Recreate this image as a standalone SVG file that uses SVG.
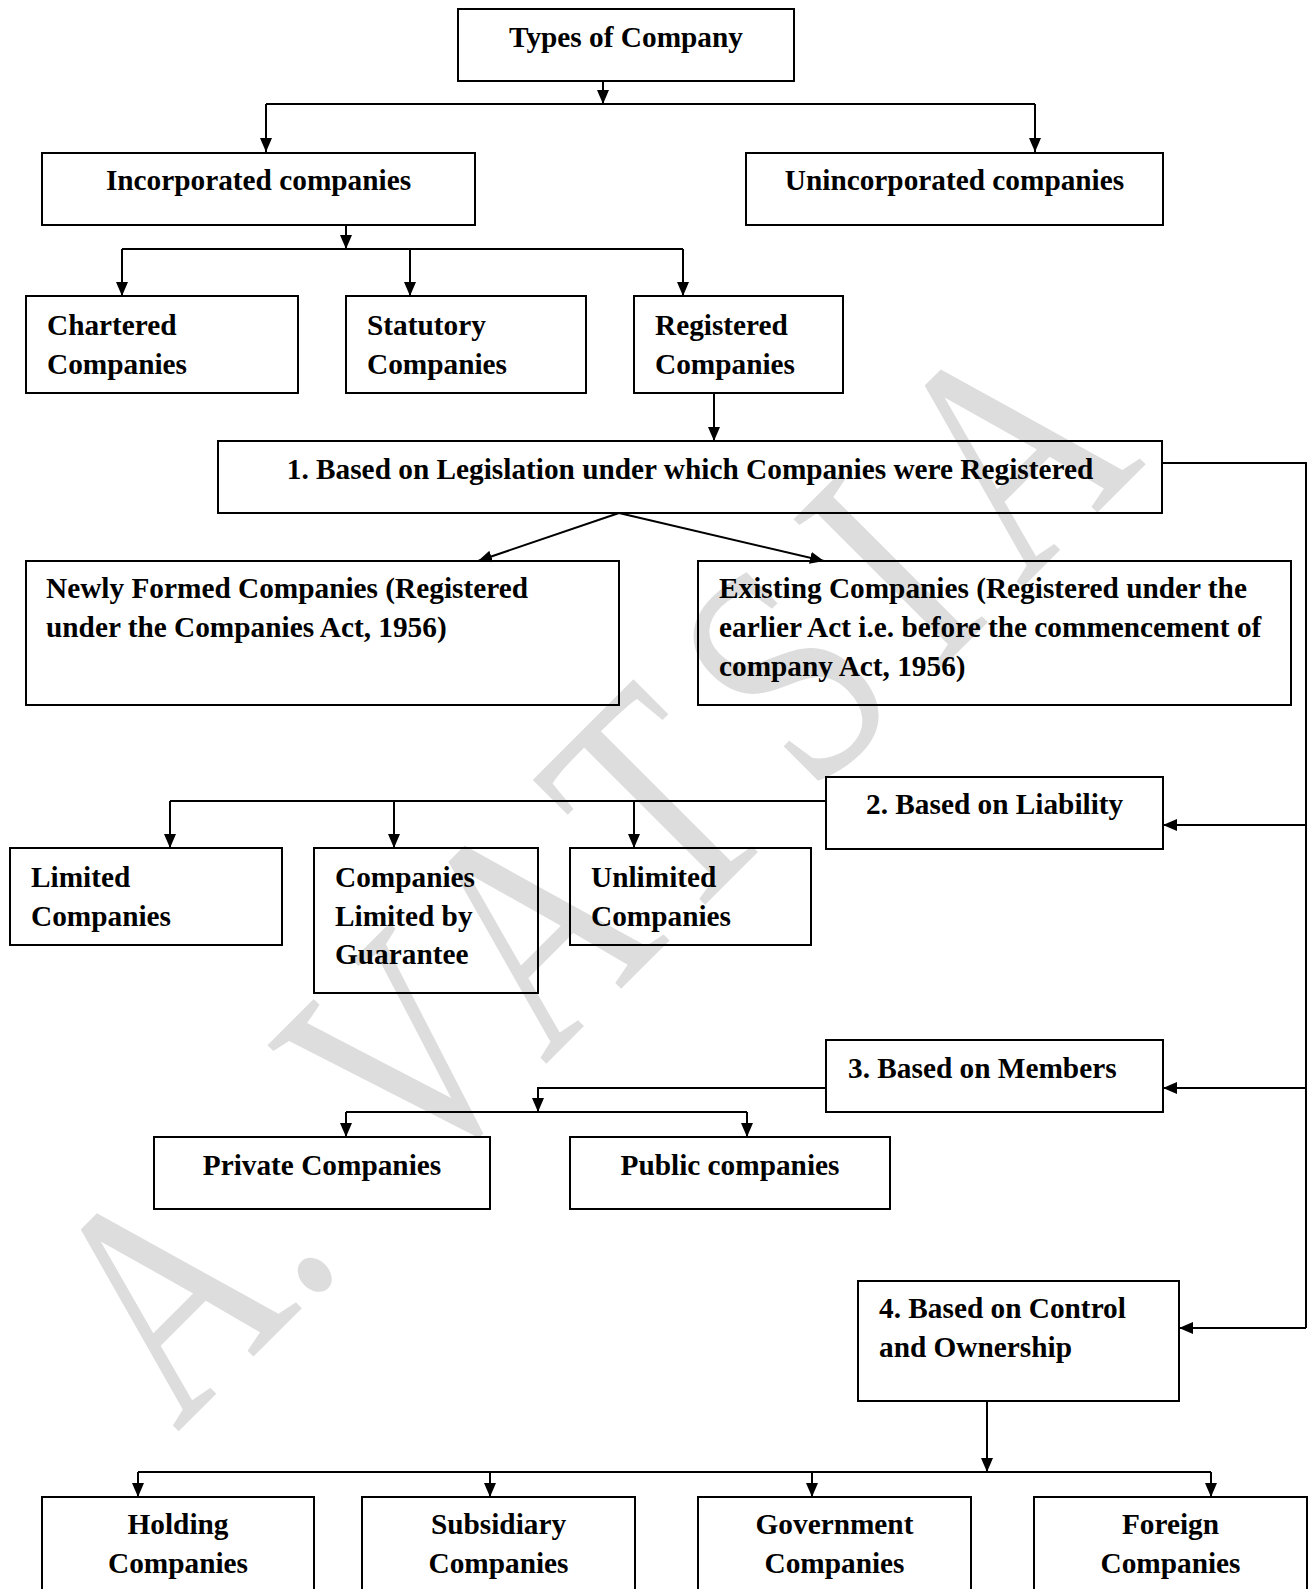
<svg xmlns="http://www.w3.org/2000/svg" width="1315" height="1589" viewBox="0 0 1315 1589">
<defs>
<marker id="ah" markerWidth="14" markerHeight="12" refX="14" refY="6" orient="auto" markerUnits="userSpaceOnUse"><path d="M0,0 L14,6 L0,12 z" fill="#000"/></marker>
<style>
.box{fill:none;stroke:#000;stroke-width:2}
.t{font-family:"Liberation Serif","Times New Roman",serif;font-weight:bold;font-size:29.3px;fill:#000}
.c{text-anchor:middle}
.ln{fill:none;stroke:#000;stroke-width:2}
.ar{fill:none;stroke:#000;stroke-width:2;marker-end:url(#ah)}
.wm{font-family:"Liberation Serif","Times New Roman",serif;font-size:247px;fill:#dddddd}
</style>
</defs>
<rect width="1315" height="1589" fill="#fff"/>
<text class="wm" x="0" y="0" transform="translate(177 1433) rotate(-45) scale(1 1.3)">A.<tspan letter-spacing="38"> VATSIA</tspan></text>

<g id="connectors">
<path class="ar" d="M603,81 V104"/>
<path class="ln" d="M266,104 H1035"/>
<path class="ar" d="M266,104 V152"/>
<path class="ar" d="M1035,104 V152"/>
<path class="ar" d="M346,225 V249"/>
<path class="ln" d="M122,249 H683"/>
<path class="ar" d="M122,249 V296"/>
<path class="ar" d="M410,249 V296"/>
<path class="ar" d="M683,249 V296"/>
<path class="ar" d="M714,393 V441"/>
<path class="ar" d="M619,513 L478,561"/>
<path class="ar" d="M619,513 L824,561"/>
<path class="ln" d="M1162,463 H1306 V1328"/>
<path class="ar" d="M1306,825 H1163"/>
<path class="ar" d="M1306,1088 H1163"/>
<path class="ar" d="M1306,1328 H1179"/>
<path class="ln" d="M826,801 H170"/>
<path class="ar" d="M170,801 V848"/>
<path class="ar" d="M394,801 V848"/>
<path class="ar" d="M634,801 V848"/>
<path class="ar" d="M826,1088 H538 V1112"/>
<path class="ln" d="M346,1112 H747"/>
<path class="ar" d="M346,1112 V1137"/>
<path class="ar" d="M747,1112 V1137"/>
<path class="ar" d="M987,1401 V1472"/>
<path class="ln" d="M138,1472 H1211"/>
<path class="ar" d="M138,1472 V1497"/>
<path class="ar" d="M490,1472 V1497"/>
<path class="ar" d="M812,1472 V1497"/>
<path class="ar" d="M1211,1472 V1497"/>
</g>

<g id="n-types"><rect class="box" x="458" y="9" width="336" height="72"/><text class="t c" x="626" y="47">Types of Company</text></g>
<g id="n-incorporated"><rect class="box" x="42" y="153" width="433" height="72"/><text class="t c" x="258.5" y="190">Incorporated companies</text></g>
<g id="n-unincorporated"><rect class="box" x="746" y="153" width="417" height="72"/><text class="t c" x="954.5" y="190">Unincorporated companies</text></g>
<g id="n-chartered"><rect class="box" x="26" y="296" width="272" height="97"/><text class="t" x="47" y="335">Chartered</text><text class="t" x="47" y="374">Companies</text></g>
<g id="n-statutory"><rect class="box" x="346" y="296" width="240" height="97"/><text class="t" x="367" y="335">Statutory</text><text class="t" x="367" y="374">Companies</text></g>
<g id="n-registered"><rect class="box" x="634" y="296" width="209" height="97"/><text class="t" x="655" y="335">Registered</text><text class="t" x="655" y="374">Companies</text></g>
<g id="n-legislation"><rect class="box" x="218" y="441" width="944" height="72"/><text class="t c" x="690" y="479">1. Based on Legislation under which Companies were Registered</text></g>
<g id="n-newly"><rect class="box" x="26" y="561" width="593" height="144"/><text class="t" x="46" y="598">Newly Formed Companies (Registered</text><text class="t" x="46" y="637">under the Companies Act, 1956)</text></g>
<g id="n-existing"><rect class="box" x="698" y="561" width="593" height="144"/><text class="t" x="719" y="598">Existing Companies (Registered under the</text><text class="t" x="719" y="637">earlier Act i.e. before the commencement of</text><text class="t" x="719" y="676">company Act, 1956)</text></g>
<g id="n-liability"><rect class="box" x="826" y="777" width="337" height="72"/><text class="t" x="866" y="814">2. Based on Liability</text></g>
<g id="n-limited"><rect class="box" x="10" y="848" width="272" height="97"/><text class="t" x="31" y="887">Limited</text><text class="t" x="31" y="926">Companies</text></g>
<g id="n-guarantee"><rect class="box" x="314" y="848" width="224" height="145"/><text class="t" x="335" y="887">Companies</text><text class="t" x="335" y="926">Limited by</text><text class="t" x="335" y="964">Guarantee</text></g>
<g id="n-unlimited"><rect class="box" x="570" y="848" width="241" height="97"/><text class="t" x="591" y="887">Unlimited</text><text class="t" x="591" y="926">Companies</text></g>
<g id="n-members"><rect class="box" x="826" y="1040" width="337" height="72"/><text class="t" x="848" y="1078">3. Based on Members</text></g>
<g id="n-private"><rect class="box" x="154" y="1137" width="336" height="72"/><text class="t c" x="322" y="1175">Private Companies</text></g>
<g id="n-public"><rect class="box" x="570" y="1137" width="320" height="72"/><text class="t c" x="730" y="1175">Public companies</text></g>
<g id="n-control"><rect class="box" x="858" y="1281" width="321" height="120"/><text class="t" x="879" y="1318">4. Based on Control</text><text class="t" x="879" y="1357">and Ownership</text></g>
<g id="n-holding"><rect class="box" x="42" y="1497" width="272" height="110"/><text class="t c" x="178" y="1534">Holding</text><text class="t c" x="178" y="1573">Companies</text></g>
<g id="n-subsidiary"><rect class="box" x="362" y="1497" width="273" height="110"/><text class="t c" x="498.5" y="1534">Subsidiary</text><text class="t c" x="498.5" y="1573">Companies</text></g>
<g id="n-government"><rect class="box" x="698" y="1497" width="273" height="110"/><text class="t c" x="834.5" y="1534">Government</text><text class="t c" x="834.5" y="1573">Companies</text></g>
<g id="n-foreign"><rect class="box" x="1034" y="1497" width="273" height="110"/><text class="t c" x="1170.5" y="1534">Foreign</text><text class="t c" x="1170.5" y="1573">Companies</text></g>
</svg>
